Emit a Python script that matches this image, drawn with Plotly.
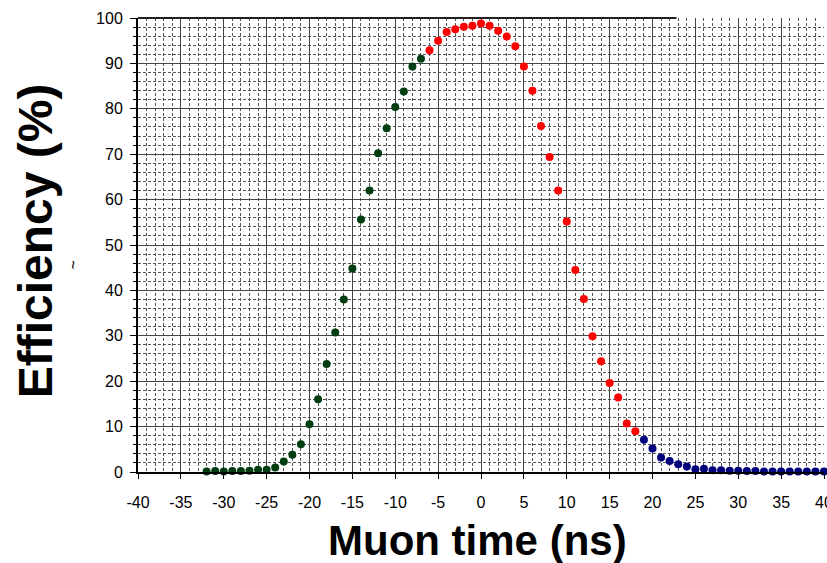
import plotly.graph_objects as go

# Muon time (ns) and efficiency (%)
green_t = list(range(-32, -6))
green_eff = [0.1, 0.2, 0.1, 0.2, 0.2, 0.3, 0.5, 0.5, 1.0, 2.3, 3.8, 6.1, 10.5, 16.0,
             23.8, 30.7, 38.0, 44.8, 55.6, 62.0, 70.2, 75.7, 80.4, 83.8, 89.3, 91.0]

red_t = list(range(-6, 19))
red_eff = [92.9, 95.0, 96.9, 97.5, 98.1, 98.3, 98.8, 98.3, 97.2, 95.9, 93.8, 89.3,
           84.0, 76.2, 69.4, 62.0, 55.2, 44.5, 38.1, 29.9, 24.4, 19.6, 16.4, 10.7, 9.0]

blue_t = list(range(19, 41))
blue_eff = [7.1, 5.2, 3.2, 2.4, 1.7, 1.2, 0.6, 0.7, 0.4, 0.4, 0.3, 0.3, 0.2, 0.2,
            0.1, 0.1, 0.1, 0.1, 0.1, 0.1, 0.1, 0.1]

x_ticks = list(range(-40, 41, 5))
y_ticks = list(range(0, 101, 10))

fig = go.Figure()
for t, e, c in [(green_t, green_eff, "#003d10"), (red_t, red_eff, "#ff0000"),
                (blue_t, blue_eff, "#00007a")]:
    fig.add_trace(go.Scatter(x=t, y=e, mode="markers",
                             marker=dict(color=c, size=8, line=dict(width=0)),
                             showlegend=False, cliponaxis=False))

font = "Liberation Sans, Arial, sans-serif"
fig.update_layout(
    width=827, height=563,
    margin=dict(l=138, r=3, t=18, b=91),
    paper_bgcolor="white", plot_bgcolor="white",
    font=dict(family=font, size=16, color="black"),
    xaxis=dict(
        range=[-40, 40], tickvals=x_ticks, ticktext=[str(v) for v in x_ticks],
        automargin=False, ticklabeloverflow="allow",
        showgrid=True, gridcolor="#444444", gridwidth=1,
        minor=dict(dtick=1, showgrid=True, gridcolor="#555555", griddash="3px,2px",
                   gridwidth=1, ticks=""),
        showline=True, linecolor="black", linewidth=2,
        ticks="outside", ticklen=5, tickcolor="black",
        ticklabelstandoff=10,
        zeroline=False,
        tickfont=dict(size=16, family=font),
    ),
    yaxis=dict(
        range=[0, 100], tickvals=y_ticks, ticktext=[str(v) for v in y_ticks],
        automargin=False,
        showgrid=True, gridcolor="#444444", gridwidth=1,
        minor=dict(dtick=2, showgrid=True, gridcolor="#555555", griddash="3px,2px",
                   gridwidth=1, ticks="outside", ticklen=3, tickcolor="black"),
        showline=True, linecolor="black", linewidth=2,
        ticks="outside", ticklen=6, tickcolor="black",
        ticklabelstandoff=4,
        zeroline=False,
        tickfont=dict(size=16, family=font),
    ),
    shapes=[dict(type="line", xref="paper", yref="paper", x0=0, x1=0.785, y0=1, y1=1,
                 line=dict(color="#222222", width=2))],
    annotations=[
        dict(text="<b>Efficiency (%)</b>", xref="paper", yref="paper",
             x=-0.149, y=0.51, xanchor="center", yanchor="middle",
             showarrow=False, textangle=-90, font=dict(size=48, family=font)),
        dict(text="<b>Muon time (ns)</b>", xref="paper", yref="paper",
             x=0.495, y=-0.15, xanchor="center", yanchor="middle",
             showarrow=False, font=dict(size=42, family=font)),
        dict(text="~", xref="paper", yref="paper", x=-0.108, y=0.456,
             showarrow=False, textangle=-90, font=dict(size=16, family=font)),
    ],
)

post = ("document.body.style.margin='0px';"
        "document.body.style.overflow='hidden';"
        "var gd=document.getElementById('{plot_id}');"
        "Plotly.relayout(gd,{width:827,height:563});")

fig.write_html("out.html", post_script=post, config={"displayModeBar": False})
